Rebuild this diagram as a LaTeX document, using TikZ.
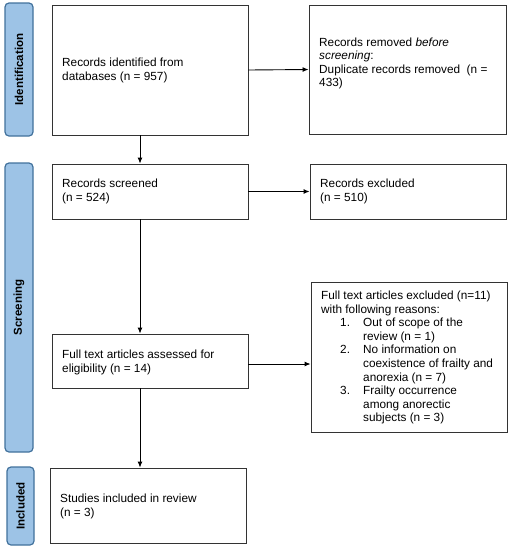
\documentclass[tikz,border=0pt]{standalone}
\usepackage{fontspec}
\setmainfont{Liberation Sans}
\usetikzlibrary{arrows.meta}
\definecolor{labfill}{HTML}{9DC3E6}
\definecolor{labdraw}{HTML}{41719C}
\begin{document}
\begin{tikzpicture}[x=1pt,y=-1pt,
  box/.style={draw=black!80,line width=0.9pt,inner sep=0pt,minimum width=196pt},
  lab/.style={draw=labdraw,fill=labfill,line width=1.2pt,rounded corners=4pt,inner sep=0pt,minimum width=28pt},
  labtxt/.style={rotate=90,font=\fontsize{11.5}{13}\selectfont\bfseries,inner sep=0pt},
  txt/.style={anchor=base west,align=left,inner sep=0pt,font=\fontsize{11.8}{13.6}\selectfont},
  arr/.style={-{Latex[length=6pt,width=5pt]},line width=0.9pt,black}]
\useasboundingbox (0,0) rectangle (512,550);
% stage labels
\node[lab,minimum height=133pt] (idl) at (19,69.5) {};
\node[labtxt] (idt) at (idl.center) {Identification};
\node[lab,minimum height=289pt] (scl) at (19,307.5) {};
\node[labtxt] (sct) at (scl.center) {Screening};
\node[lab,minimum height=78pt,minimum width=27pt] (inl) at (20.5,506) {};
\node[labtxt] (int) at (inl.center) {Included};
% boxes
\node[box,minimum height=130pt] (b1) at (150,70) {};
\node[box,minimum width=197pt,minimum height=129pt] (b2) at (407.5,69.5) {};
\node[box,minimum height=55pt] (scr) at (150,191.5) {};
\node[box,minimum height=55pt] (exc) at (408,191.5) {};
\node[box,minimum height=54pt] (full) at (150,361) {};
\node[box,minimum height=150pt] (fexc) at (409,357) {};
\node[box,minimum height=75pt] (inc) at (148,505.5) {};
% texts (anchored at the baseline of their last line)
\node[txt] (t1) at (62,80.1) {Records identified from\\databases (n = 957)};
\node[txt] (t2) at (319,86.8) {Records removed \textit{before}\\\textit{screening}:\\Duplicate records removed~~(n =\\433)};
\node[txt] (t3) at (62,201) {Records screened\\(n = 524)};
\node[txt] (t4) at (320,201) {Records excluded\\(n = 510)};
\node[txt] (t5) at (62,372) {Full text articles assessed for\\eligibility (n = 14)};
\node[txt] (t6) at (321,421.8) {Full text articles excluded (n=11)\\with following reasons:\\
\hspace*{19pt}\makebox[23pt][l]{1.}Out of scope of the\\
\hspace*{42pt}review (n = 1)\\
\hspace*{19pt}\makebox[23pt][l]{2.}No information on\\
\hspace*{42pt}coexistence of frailty and\\
\hspace*{42pt}anorexia (n = 7)\\
\hspace*{19pt}\makebox[23pt][l]{3.}Frailty occurrence\\
\hspace*{42pt}among anorectic\\
\hspace*{42pt}subjects (n = 3)};
\node[txt] (t7) at (60,516) {Studies included in review\\(n = 3)};
% connectors
\coordinate (ax) at (140,0);
\draw[arr] (b1.east) -- (b2.west);
\draw[arr] (scr.east) -- (exc.west);
\coordinate (ay) at (0,364);
\draw[arr] (full.east |- ay) -- (fexc.west |- ay);
\draw[arr] (b1.south -| ax) -- (scr.north -| ax);
\draw[arr] (scr.south -| ax) -- (full.north -| ax);
\draw[arr] (full.south -| ax) -- (inc.north -| ax);
\end{tikzpicture}
\end{document}
